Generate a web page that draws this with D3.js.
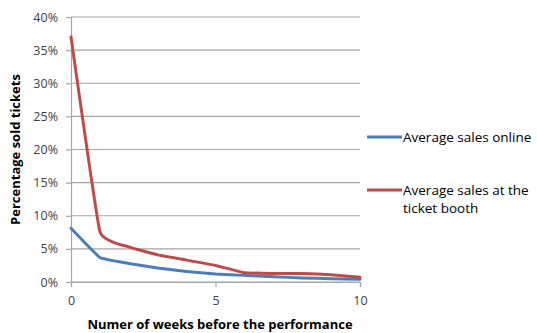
<!DOCTYPE html>
<html>
<head>
<meta charset="utf-8">
<script src="https://cdn.jsdelivr.net/npm/d3@7"></script>
<style>
  html, body { margin: 0; padding: 0; background: #fff; }
  svg { display: block; font-family: "Open Sans", "Liberation Sans", sans-serif; }
</style>
</head>
<body>
<svg id="chart" width="537" height="333"></svg>
<script>
// Weeks before the performance
const weeks = [0, 1, 2, 3, 4, 5, 6, 7, 8, 9, 10];
// Share of tickets sold (%)
const onlineSales = [8.1, 3.7, 2.8, 2.1, 1.6, 1.2, 1.0, 0.8, 0.6, 0.5, 0.4];
const boothSales = [37.0, 7.6, 5.3, 4.1, 3.3, 2.5, 1.4, 1.3, 1.3, 1.1, 0.7];
const yTicks = [0, 5, 10, 15, 20, 25, 30, 35, 40];
const xTicks = [0, 5, 10];
const seriesNames = ["Average sales online", "Average sales at the ticket booth"];
const seriesColors = ["#4a7ebb", "#be4b48"];

const svg = d3.select("#chart");
const x = d3.scaleLinear().domain([0, 10]).range([71, 360]);
const y = d3.scaleLinear().domain([0, 40]).range([282, 17]);
const labelFont = "Open Sans, Liberation Sans, sans-serif";

// Horizontal gridlines
svg.append("g")
  .selectAll("line")
  .data(yTicks)
  .join("line")
  .attr("x1", x(0)).attr("x2", x(10))
  .attr("y1", d => y(d)).attr("y2", d => y(d))
  .attr("stroke", "#a6a6a6").attr("stroke-width", 1.2);

// Y axis
const yAxis = svg.append("g")
  .attr("transform", `translate(${x(0)},0)`)
  .call(d3.axisLeft(y).tickValues(yTicks).tickFormat(d => d + "%").tickSize(5).tickPadding(8));
yAxis.select(".domain").attr("stroke", "#a6a6a6").attr("stroke-width", 1.2);
yAxis.selectAll(".tick line").attr("stroke", "#a6a6a6").attr("stroke-width", 1.2);
yAxis.selectAll(".tick text").attr("font-size", 12.5).attr("fill", "#404040")
  .attr("font-family", labelFont);

// X axis
const xAxis = svg.append("g")
  .attr("transform", `translate(0,${y(0)})`)
  .call(d3.axisBottom(x).tickValues(xTicks).tickSize(5).tickPadding(9));
xAxis.select(".domain").attr("stroke", "#a6a6a6").attr("stroke-width", 1.2);
xAxis.selectAll(".tick line").attr("stroke", "#a6a6a6").attr("stroke-width", 1.2);
xAxis.selectAll(".tick text").attr("font-size", 12.5).attr("fill", "#404040")
  .attr("font-family", labelFont);

// Series lines (lightly smoothed)
const line = d3.line()
  .x((d, i) => x(weeks[i]))
  .y(d => y(d))
  .curve(d3.curveCardinal.tension(0.7));

[onlineSales, boothSales].forEach((vals, k) => {
  svg.append("path")
    .datum(vals)
    .attr("d", line)
    .attr("fill", "none")
    .attr("stroke", seriesColors[k])
    .attr("stroke-width", 3)
    .attr("stroke-linejoin", "round")
    .attr("stroke-linecap", "round");
});

// Axis titles
svg.append("text")
  .attr("transform", `translate(20,${(y(0) + y(40)) / 2}) rotate(-90)`)
  .attr("text-anchor", "middle")
  .attr("font-size", 13).attr("font-weight", "bold").attr("fill", "#000")
  .text("Percentage sold tickets");

svg.append("text")
  .attr("x", 220).attr("y", 329)
  .attr("text-anchor", "middle")
  .attr("font-size", 13).attr("font-weight", "bold").attr("fill", "#000")
  .text("Numer of weeks before the performance");

// Legend
const legend = svg.append("g");
const legendRows = [
  { y: 137, lines: ["Average sales online"] },
  { y: 190, lines: ["Average sales at the", "ticket booth"] }
];
legendRows.forEach((row, k) => {
  legend.append("line")
    .attr("x1", 367).attr("x2", 402)
    .attr("y1", row.y).attr("y2", row.y)
    .attr("stroke", seriesColors[k]).attr("stroke-width", 3);
  const t = legend.append("text")
    .attr("x", 403).attr("y", row.y + 4.5)
    .attr("font-size", 13.5).attr("fill", "#000");
  row.lines.forEach((s, j) => {
    t.append("tspan").attr("x", 403).attr("dy", j === 0 ? 0 : 18).text(s);
  });
});
</script>
</body>
</html>
